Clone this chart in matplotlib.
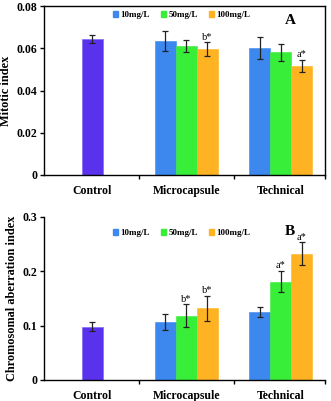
import numpy as np
import matplotlib
matplotlib.use("Agg")
import matplotlib.pyplot as plt
from matplotlib.patches import Patch

plt.rcParams['font.family'] = ['Liberation Serif', 'DejaVu Serif']

groups = ["Control", "Microcapsule", "Technical"]
doses = ["10mg/L", "50mg/L", "100mg/L"]

# panel A: mitotic index
control_mi = 0.0645
control_mi_err = 0.002
micro_mi = [0.0636, 0.0611, 0.0596]
micro_mi_err = [0.0048, 0.0027, 0.0032]
tech_mi = [0.0600, 0.0581, 0.0516]
tech_mi_err = [0.0051, 0.0041, 0.0030]
micro_mi_marks = ["", "", "b*"]
tech_mi_marks = ["", "", "a*"]

# panel B: chromosomal aberration index
control_ca = 0.0984
control_ca_err = 0.0077
micro_ca = [0.107, 0.118, 0.132]
micro_ca_err = [0.015, 0.021, 0.023]
tech_ca = [0.125, 0.181, 0.232]
tech_ca_err = [0.0098, 0.020, 0.021]
micro_ca_marks = ["", "b*", "b*"]
tech_ca_marks = ["", "a*", "a*"]

control_color = "#5a32ee"
dose_colors = ["#3d88ee", "#38ee38", "#ffb322"]

fig = plt.figure(figsize=(3.31, 4.01), dpi=100)
axA = fig.add_axes([0.133, 0.5636, 0.849, 0.4214])
axB = fig.add_axes([0.133, 0.0524, 0.849, 0.4066])

w = 0.222


def draw(ax, cval, cerr, mvals, merr, tvals, terr, mmarks, tmarks, ymax, yticks, ylabels, ylabel, letter, leg_y):
    ekw = dict(ecolor="#222222", elinewidth=0.9, capsize=2, capthick=0.9)
    ax.bar(0, cval, w, color=control_color, edgecolor="#8a72f5", linewidth=0.6,
           yerr=cerr, error_kw=ekw, zorder=2)
    for i in range(3):
        off = (i - 1) * w
        ax.bar(1 + off, mvals[i], w, color=dose_colors[i], edgecolor=dose_colors[i],
               linewidth=0.4, yerr=merr[i], error_kw=ekw, zorder=2)
        ax.bar(2 + off, tvals[i], w, color=dose_colors[i], edgecolor=dose_colors[i],
               linewidth=0.4, yerr=terr[i], error_kw=ekw, zorder=2)
        if mmarks[i]:
            ax.text(1 + off, mvals[i] + merr[i] + ymax * 0.004, mmarks[i],
                    ha="center", va="bottom", fontsize=7.5)
        if tmarks[i]:
            ax.text(2 + off, tvals[i] + terr[i] + ymax * 0.004, tmarks[i],
                    ha="center", va="bottom", fontsize=7.5)
    ax.set_xlim(-0.51, 2.47)
    ax.set_ylim(0, ymax)
    ax.set_yticks(yticks)
    ax.set_yticklabels(ylabels, fontsize=8.5, fontweight="bold")
    ax.set_xticks([0, 1, 2])
    ax.set_xticklabels(groups, fontsize=8.5, fontweight="bold")
    ax.tick_params(axis="x", which="major", length=0, pad=7)
    ax.set_xticks([0.5, 1.5, 2.47], minor=True)
    ax.tick_params(axis="x", which="minor", direction="out", length=3, width=1)
    ax.tick_params(axis="y", direction="out", length=3, width=1, pad=2)
    ax.set_ylabel(ylabel, fontsize=8.8, fontweight="bold", labelpad=3)
    for s in ax.spines.values():
        s.set_linewidth(1)
    ax.text(0.875, 0.95, letter, transform=ax.transAxes, ha="center", va="top",
            fontsize=11, fontweight="bold")
    handles = [Patch(color=c) for c in dose_colors]
    ax.legend(handles, doses, loc="center", bbox_to_anchor=(0.49, leg_y), ncol=3,
              frameon=False, handlelength=0.55, handleheight=0.55, handletextpad=0.3,
              columnspacing=1.2, prop=dict(size=6.5, weight="bold"))


draw(axA, control_mi, control_mi_err, micro_mi, micro_mi_err, tech_mi, tech_mi_err,
     micro_mi_marks, tech_mi_marks, 0.08, [0, 0.02, 0.04, 0.06, 0.08],
     ["0", "0.02", "0.04", "0.06", "0.08"], "Mitotic index", "A", 0.945)
draw(axB, control_ca, control_ca_err, micro_ca, micro_ca_err, tech_ca, tech_ca_err,
     micro_ca_marks, tech_ca_marks, 0.3, [0, 0.1, 0.2, 0.3],
     ["0", "0.1", "0.2", "0.3"], "Chromosomal aberration index", "B", 0.9)
axB.spines["top"].set_visible(False)
axB.spines["right"].set_visible(False)

fig.savefig("out.png", dpi=100)
